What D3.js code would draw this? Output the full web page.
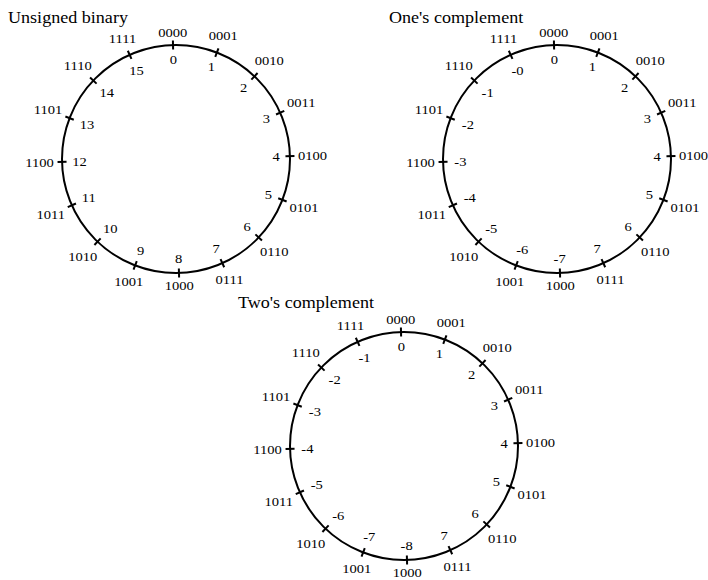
<!DOCTYPE html>
<html>
<head>
<meta charset="utf-8">
<script src="https://cdn.jsdelivr.net/npm/d3@7"></script>
<style>
  body { margin: 0; background: #fff; }
</style>
</head>
<body>
<div id="chart"></div>
<script>
// canvas size
var svgWidth = 708;
var svgHeight = 580;

// the 4-bit patterns, going clockwise from the top
var codes = ["0000", "0001", "0010", "0011", "0100", "0101", "0110", "0111",
             "1000", "1001", "1010", "1011", "1100", "1101", "1110", "1111"];

// the value each pattern stands for, per representation
var unsignedVals = ["0", "1", "2", "3", "4", "5", "6", "7",
                    "8", "9", "10", "11", "12", "13", "14", "15"];
var onesVals = ["0", "1", "2", "3", "4", "5", "6", "7",
                "-7", "-6", "-5", "-4", "-3", "-2", "-1", "-0"];
var twosVals = ["0", "1", "2", "3", "4", "5", "6", "7",
                "-8", "-7", "-6", "-5", "-4", "-3", "-2", "-1"];

var titles = ["Unsigned binary", "One's complement", "Two's complement"];

// layout of the three wheels
var wheels = [
  { title: titles[0], vals: unsignedVals, cx: 176, cy: 159, tx: 8, ty: 23 },
  { title: titles[1], vals: onesVals, cx: 557, cy: 159, tx: 389, ty: 23 },
  { title: titles[2], vals: twosVals, cx: 404, cy: 446, tx: 238, ty: 308 }
];

var radius = 114;
var tickLen = 4.5;
var font = "Liberation Serif, Times New Roman, serif";
var labelStretch = 1.12; // the source font is set a bit wide
var titleStretch = 1.13;

// angle scale: position on the wheel -> radians, clockwise from top
var angle = d3.scaleLinear()
  .domain([0, codes.length])
  .range([0, 2 * Math.PI]);
var skew = -1.5 * Math.PI / 180;

function polar(cx, cy, r, a) {
  return [cx + r * Math.sin(a + skew), cy - r * Math.cos(a + skew)];
}

var svg = d3.select("#chart")
  .append("svg")
  .attr("width", svgWidth)
  .attr("height", svgHeight);

wheels.forEach(function(w) {
  var g = svg.append("g");

  // title
  g.append("text")
    .attr("transform", `translate(${w.tx}, ${w.ty}) scale(${titleStretch}, 1)`)
    .attr("font-family", font)
    .attr("font-size", "16px")
    .text(w.title);

  // the wheel itself
  g.append("circle")
    .attr("cx", w.cx)
    .attr("cy", w.cy)
    .attr("r", radius)
    .attr("fill", "none")
    .attr("stroke", "#000")
    .attr("stroke-width", 2);

  var idx = d3.range(codes.length);

  // tick marks crossing the circle
  g.selectAll("line.tick")
    .data(idx)
    .enter()
    .append("line")
    .attr("class", "tick")
    .attr("x1", d => polar(w.cx, w.cy, radius - tickLen, angle(d))[0])
    .attr("y1", d => polar(w.cx, w.cy, radius - tickLen, angle(d))[1])
    .attr("x2", d => polar(w.cx, w.cy, radius + tickLen, angle(d))[0])
    .attr("y2", d => polar(w.cx, w.cy, radius + tickLen, angle(d))[1])
    .attr("stroke", "#000")
    .attr("stroke-width", 2);

  // outer binary labels
  g.selectAll("text.code")
    .data(idx)
    .enter()
    .append("text")
    .attr("class", "code")
    .attr("font-family", font)
    .attr("font-size", "13px")
    .attr("text-anchor", "middle")
    .attr("dominant-baseline", "central")
    .attr("transform", function(d) {
      var a = angle(d);
      var half = 14.5 * Math.abs(Math.sin(a)) + 4.5 * Math.abs(Math.cos(a));
      var p = polar(w.cx, w.cy, radius + 8 + half, a);
      return `translate(${p[0]}, ${p[1]}) scale(${labelStretch}, 1)`;
    })
    .text(d => codes[d]);

  // inner value labels
  g.selectAll("text.val")
    .data(idx)
    .enter()
    .append("text")
    .attr("class", "val")
    .attr("font-family", font)
    .attr("font-size", "13px")
    .attr("text-anchor", "middle")
    .attr("dominant-baseline", "central")
    .attr("transform", function(d) {
      var a = angle(d);
      var wd = w.vals[d].length * 3.7;
      var half = wd * Math.abs(Math.sin(a)) + 4.5 * Math.abs(Math.cos(a));
      var p = polar(w.cx, w.cy, radius - 10 - half, a);
      return `translate(${p[0]}, ${p[1]}) scale(${labelStretch}, 1)`;
    })
    .text(d => w.vals[d]);
});
</script>
</body>
</html>
